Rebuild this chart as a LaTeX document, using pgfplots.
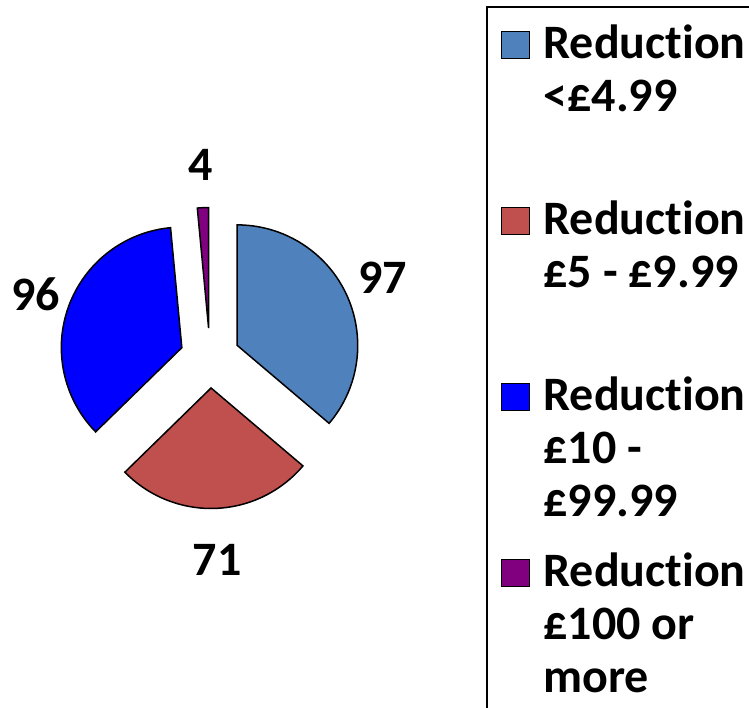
\documentclass[border=0pt]{standalone}
\usepackage{fontspec}
\setmainfont{Carlito}[Ligatures={NoCommon}]
\usepackage{pgfplots}
\usepackage{pgfplotstable}
\pgfplotsset{compat=1.18}

\definecolor{cA}{HTML}{4F81BD}
\definecolor{cB}{HTML}{C0504D}
\definecolor{cC}{HTML}{0000FF}
\definecolor{cD}{HTML}{800080}

% slice values (clockwise from 12 o'clock) and label distances (px)
\pgfplotstableread{
idx value ldist
0 97 190
1 71 202
2 96 186
3 4 193
}\piedata
\pgfplotstablecreatecol[create col/expr accum={\pgfmathaccuma + \thisrow{value}}{0}]{cum}\piedata
\pgfplotstablegetelem{3}{cum}\of\piedata
\edef\pietotal{\pgfplotsretval}

\newcommand\bigfont{\fontsize{48}{53}\selectfont\bfseries}

\pgfdeclareplotmark{pieslice}{%
  \pgfmathsetmacro\fa{\cum/\pietotal}%
  \pgfmathsetmacro\fb{(\cum - \val)/\pietotal}%
  \pgfmathsetmacro\aStart{90 - 360*\fa}%
  \pgfmathsetmacro\aEnd{90 - 360*\fb}%
  \pgfmathsetmacro\aMid{(\aStart+\aEnd)/2}%
  \pgfmathtruncatemacro\vlab{round(\val)}%
  \pgfpathmoveto{\pgfpointpolar{\aMid}{30pt}}%
  \pgfpathlineto{\pgfpointadd{\pgfpointpolar{\aMid}{30pt}}{\pgfpointpolar{\aStart}{120.5pt}}}%
  \pgfpatharc{\aStart}{\aEnd}{120.5pt}%
  \pgfpathclose
  \pgfusepathqfillstroke
  \pgftext[at=\pgfpointpolar{\aMid}{\ldist pt}]{\color{black}\bigfont\vlab}%
}

\pgfplotsset{
  slice/.style={
    scatter, only marks, mark=pieslice,
    point meta=\thisrow{value},
    visualization depends on={\thisrow{value}\as\val},
    visualization depends on={\thisrow{cum}\as\cum},
    visualization depends on={\thisrow{ldist}\as\ldist},
    scatter/use mapped color={draw=black, fill=#1, line width=1.5pt},
    legend image code/.code={\draw[draw=black, fill=#1, line width=1pt] (0pt,0pt) rectangle (28pt,27pt);},
  },
}

\begin{document}
\begin{tikzpicture}
\begin{axis}[
  at={(0,0)}, anchor=south west,
  x=1pt, y=1pt,
  xmin=0, xmax=749, ymin=0, ymax=707,
  hide axis, clip=false,
  legend style={
    at={(axis cs:485.5,701)}, anchor=north west,
    draw=black, line width=2pt,
    inner xsep=14pt, inner ysep=18pt,
    row sep=0pt, column sep=0pt,
    font=\bigfont,
    cells={anchor=base west},
    nodes={inner sep=0pt, text depth={}, text height={}},
  },
]
\addplot[slice=cA, skip coords between index={1}{4}]
  table[x expr=210, y expr=349]{\piedata};
\addlegendentry{\hspace{14pt}\parbox[t][176pt][t]{230pt}{Reduction\\<£4.99}}
\addplot[slice=cB, skip coords between index={0}{1}, skip coords between index={2}{4}]
  table[x expr=210, y expr=349]{\piedata};
\addlegendentry{\hspace{14pt}\parbox[t][176pt][t]{230pt}{Reduction\\£5 - £9.99}}
\addplot[slice=cC, skip coords between index={0}{2}, skip coords between index={3}{4}]
  table[x expr=210, y expr=349]{\piedata};
\addlegendentry{\hspace{14pt}\parbox[t][176pt][t]{230pt}{Reduction\\£10 -\\£99.99}}
\addplot[slice=cD, skip coords between index={0}{3}]
  table[x expr=210, y expr=349]{\piedata};
\addlegendentry{\hspace{14pt}\parbox[t][176pt][t]{230pt}{Reduction\\£100 or\\more}}
\end{axis}
\pgfresetboundingbox
\useasboundingbox (0,0) rectangle (749pt,707pt);
\end{tikzpicture}
\end{document}
